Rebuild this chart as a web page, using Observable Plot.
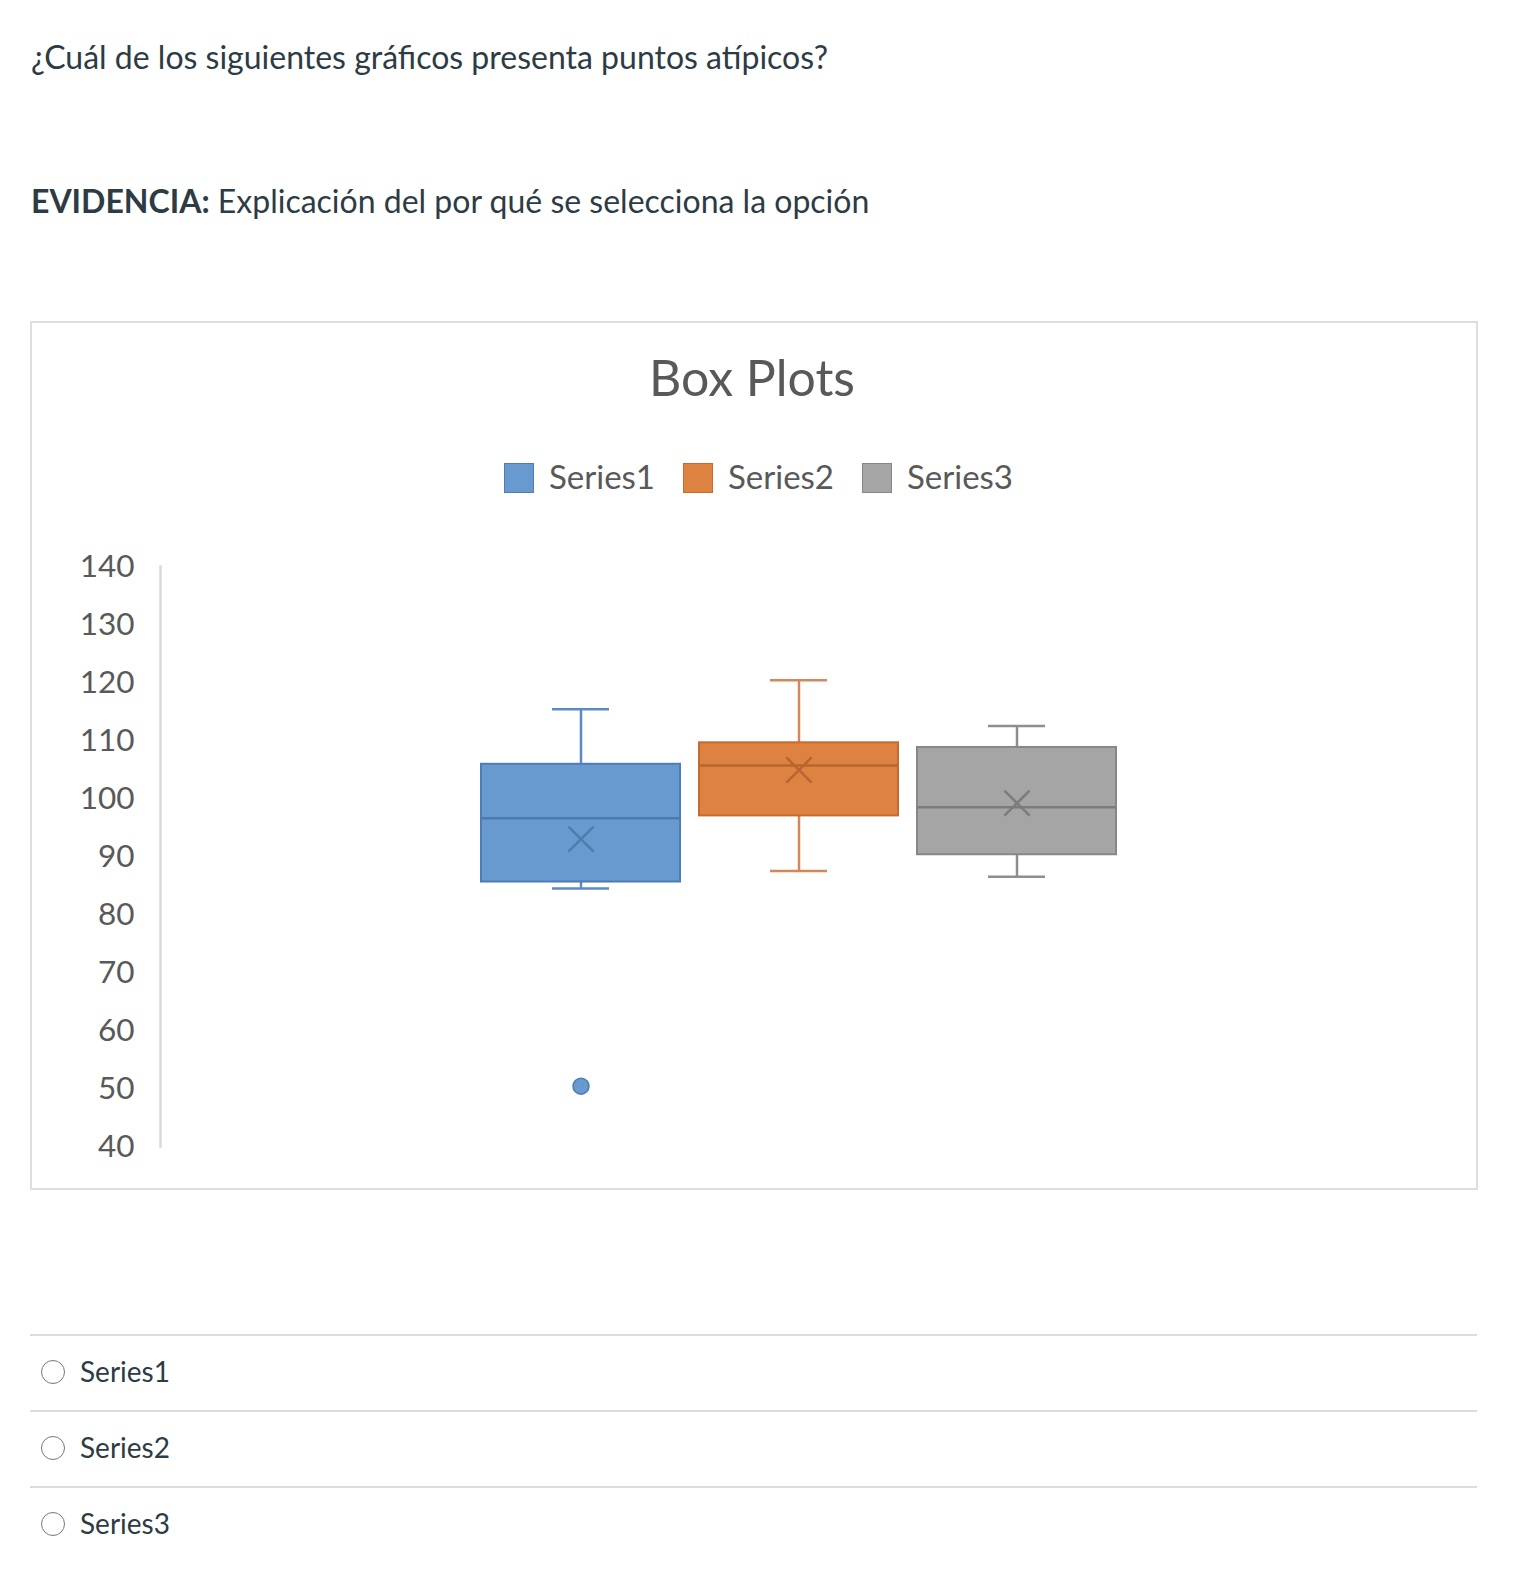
<!DOCTYPE html>
<html>
<head>
<meta charset="utf-8">
<script src="https://cdn.jsdelivr.net/npm/d3@7"></script>
<script src="https://cdn.jsdelivr.net/npm/@observablehq/plot@0.6"></script>
<style>
  html, body { margin: 0; padding: 0; background: #fff; }
  body { width: 1514px; height: 1594px; position: relative; font-family: Lato, "Noto Sans", sans-serif; overflow: hidden; }
  .abs { position: absolute; white-space: nowrap; line-height: 1.2; }
  .q { font-size: 28px; color: #2d3b45; }
  .qbig { font-size: 32px; color: #2d3b45; }
  .chartbox { position: absolute; left: 30px; top: 321px; width: 1444px; height: 865px; border: 2px solid #dedede; box-sizing: content-box; }
  .title { font-size: 50px; color: #595959; transform: translateX(-50%); }
  .legend-sw { position: absolute; width: 28px; height: 28px; border: 1.5px solid; }
  .legend-lb { font-size: 33px; color: #595959; }
  .sep { position: absolute; left: 30px; width: 1447px; height: 0; border-top: 2px solid #dcdcdc; }
  .radio { position: absolute; width: 22px; height: 22px; border: 1.5px solid #777; border-radius: 50%; background: #fff; }
  #plot { position: absolute; left: 0; top: 526px; }
</style>
</head>
<body>
<div class="abs qbig" style="left:31px; top:38px;">¿Cuál de los siguientes gráficos presenta puntos atípicos?</div>
<div class="abs qbig" style="left:31px; top:182px;"><b>EVIDENCIA:</b> Explicación del por qué se selecciona la opción</div>

<div class="chartbox"></div>
<div class="abs title" style="left:752px; top:347px;">Box Plots</div>
<div id="legend"></div>
<div id="plot"></div>
<div id="options"></div>

<script>
// ---- data ----
const series = ["Series1", "Series2", "Series3"];
const whiskerLow  = [84.5, 87.5, 86.5];
const q1          = [85.6, 97.0, 90.3];
const median      = [96.6, 105.7, 98.5];
const q3          = [105.9, 109.6, 108.8];
const whiskerHigh = [115.4, 120.4, 112.5];
const mean        = [93.0, 104.9, 99.2];
const outlierSeries = ["Series1"];
const outlierValues = [50.4];
const yTicks = [40, 50, 60, 70, 80, 90, 100, 110, 120, 130, 140];
const options = ["Series1", "Series2", "Series3"];

// ---- styles ----
const fillColor    = {Series1: "#6899cf", Series2: "#de8242", Series3: "#a5a5a5"};
const borderColor  = {Series1: "#4d7db5", Series2: "#c66a2d", Series3: "#878787"};
const whiskerColor = {Series1: "#5b8bc4", Series2: "#d4875a", Series3: "#8e8e8e"};
const innerColor   = {Series1: "#4f7cae", Series2: "#b8652f", Series3: "#7c7c7c"};

const stats = series.map((s, i) => ({
  series: s, lo: whiskerLow[i], q1: q1[i], median: median[i], q3: q3[i], hi: whiskerHigh[i], mean: mean[i]
}));
const outliers = outlierSeries.map((s, i) => ({series: s, value: outlierValues[i]}));

// ---- legend ----
const legendPos = [{sw: 504, lb: 549}, {sw: 683, lb: 728}, {sw: 862, lb: 907}];
const legend = document.getElementById("legend");
series.forEach((s, i) => {
  const sw = document.createElement("div");
  sw.className = "legend-sw";
  sw.style.left = legendPos[i].sw + "px";
  sw.style.top = "463px";
  sw.style.background = fillColor[s];
  sw.style.borderColor = borderColor[s];
  legend.appendChild(sw);
  const lb = document.createElement("div");
  lb.className = "abs legend-lb";
  lb.style.left = legendPos[i].lb + "px";
  lb.style.top = "457px";
  lb.textContent = s;
  legend.appendChild(lb);
});

// ---- plot ----
const chart = Plot.plot({
  width: 1514,
  height: 660,
  marginLeft: 160,
  marginRight: 77,
  marginTop: 40,
  marginBottom: 40,
  style: {background: "transparent", fontFamily: "Lato, sans-serif"},
  x: {domain: series, axis: null, paddingInner: 0.085, paddingOuter: 1.461},
  y: {domain: [40, 140]},
  color: {type: "identity"},
  marks: [
    Plot.frame({anchor: "left", stroke: "#d9d9d9", strokeWidth: 2.5}),
    Plot.axisY({ticks: yTicks, tickSize: 0, tickPadding: 26, fontSize: 31.5, color: "#595959", label: null}),
    // whiskers
    Plot.ruleX(stats, {x: "series", y1: "lo", y2: "q1", stroke: d => whiskerColor[d.series], strokeWidth: 2.5}),
    Plot.ruleX(stats, {x: "series", y1: "q3", y2: "hi", stroke: d => whiskerColor[d.series], strokeWidth: 2.5}),
    Plot.tickY(stats, {x: "series", y: "lo", stroke: d => whiskerColor[d.series], strokeWidth: 2.5, insetLeft: 71, insetRight: 71}),
    Plot.tickY(stats, {x: "series", y: "hi", stroke: d => whiskerColor[d.series], strokeWidth: 2.5, insetLeft: 71, insetRight: 71}),
    // boxes
    Plot.barY(stats, {x: "series", y1: "q1", y2: "q3", fill: d => fillColor[d.series], stroke: d => borderColor[d.series], strokeWidth: 2}),
    // median
    Plot.tickY(stats, {x: "series", y: "median", stroke: d => innerColor[d.series], strokeWidth: 2.5}),
    // mean
    Plot.dot(stats, {x: "series", y: "mean", symbol: "times", r: 11.5, stroke: d => innerColor[d.series], strokeWidth: 2.5}),
    // outliers
    Plot.dot(outliers, {x: "series", y: "value", r: 8, fill: d => fillColor[d.series], stroke: d => borderColor[d.series], strokeWidth: 1.5})
  ]
});
document.getElementById("plot").appendChild(chart);

// ---- answer options ----
const opt = document.getElementById("options");
const sepY = [1334, 1410, 1486];
options.forEach((o, i) => {
  const sep = document.createElement("div");
  sep.className = "sep";
  sep.style.top = sepY[i] + "px";
  opt.appendChild(sep);
  const cy = sepY[i] + 38.5;
  const r = document.createElement("div");
  r.className = "radio";
  r.style.left = (53 - 12.5) + "px";
  r.style.top = (cy - 12.5) + "px";
  opt.appendChild(r);
  const lb = document.createElement("div");
  lb.className = "abs q";
  lb.style.left = "80px";
  lb.style.top = (cy - 17.6) + "px";
  lb.textContent = o;
  opt.appendChild(lb);
});
</script>
</body>
</html>
